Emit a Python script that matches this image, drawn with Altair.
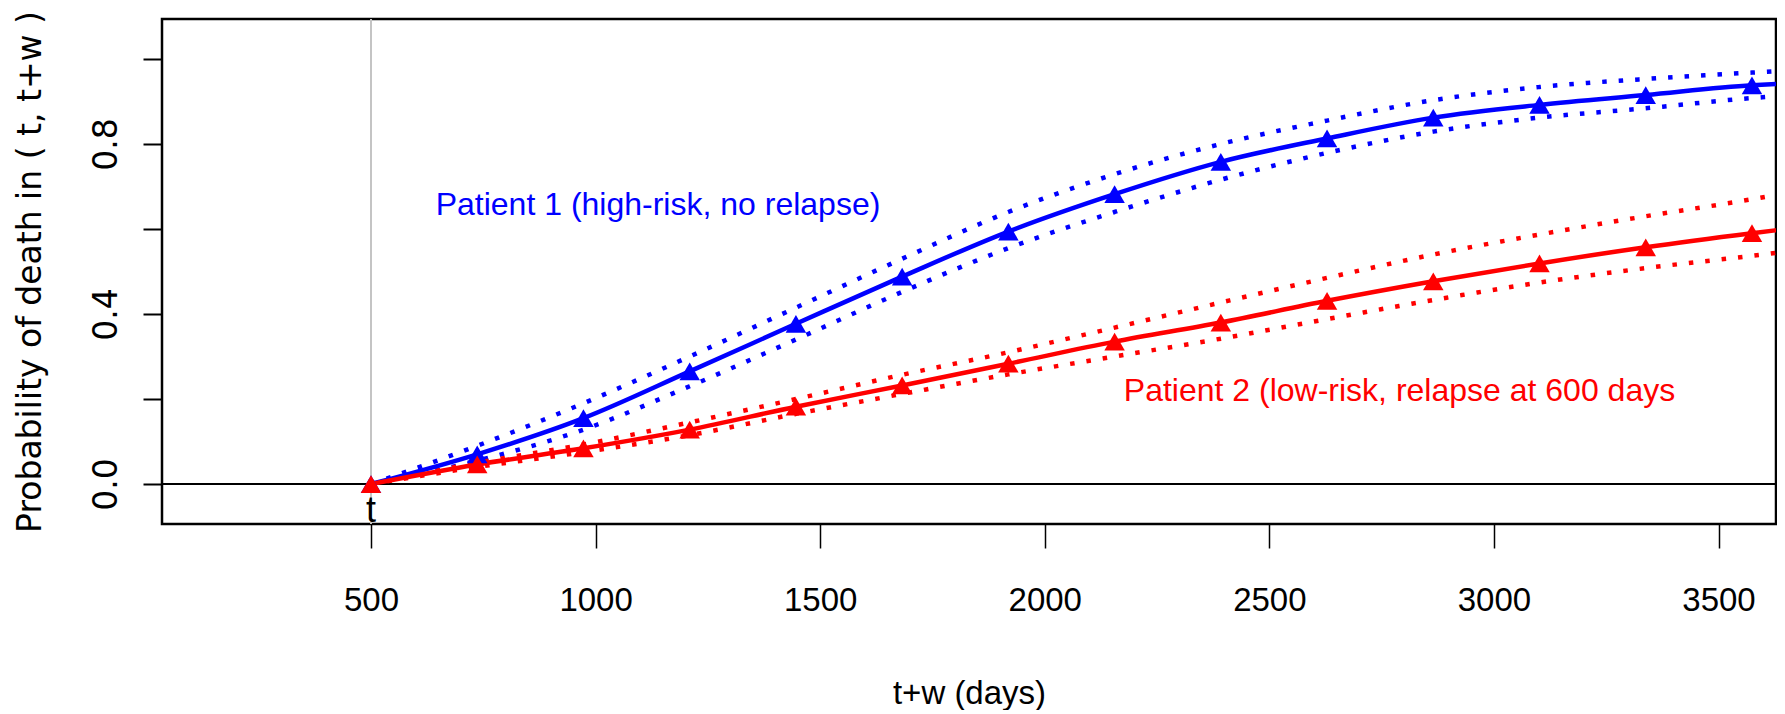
import altair as alt
import pandas as pd

# ---- data ----
w_days = [500, 736.5, 973, 1209.5, 1446, 1682.5, 1919, 2155.5, 2392, 2628.5, 2865, 3101.5, 3338, 3574.5, 3628]
n_markers = 14  # triangles drawn at the first 14 positions

p1_est = [0, 0.070, 0.155, 0.265, 0.377, 0.488, 0.594, 0.682, 0.758, 0.813, 0.862, 0.892, 0.915, 0.938, 0.941]
p1_up = [0, 0.090, 0.190, 0.300, 0.415, 0.530, 0.640, 0.729, 0.800, 0.855, 0.903, 0.934, 0.953, 0.968, 0.971]
p1_lo = [0, 0.055, 0.128, 0.230, 0.340, 0.452, 0.555, 0.640, 0.716, 0.779, 0.829, 0.862, 0.884, 0.908, 0.912]

p2_est = [0, 0.046, 0.084, 0.128, 0.182, 0.232, 0.283, 0.335, 0.380, 0.431, 0.477, 0.519, 0.557, 0.590, 0.597]
p2_up = [0, 0.050, 0.093, 0.145, 0.200, 0.257, 0.310, 0.368, 0.427, 0.485, 0.540, 0.587, 0.630, 0.670, 0.680]
p2_lo = [0, 0.040, 0.075, 0.115, 0.165, 0.212, 0.258, 0.300, 0.342, 0.388, 0.433, 0.474, 0.508, 0.537, 0.544]

patients = ["Patient 1", "Patient 2"]
colors = ["#0000FF", "#FF0000"]

ann_text = ["Patient 1 (high-risk, no relapse)", "Patient 2 (low-risk, relapse at 600 days"]
ann_x = [644, 2176]
ann_y = [0.657, 0.22]

t_label = ["t"]
t_x = [500]
t_y = [-0.089]

x_ticks = [500, 1000, 1500, 2000, 2500, 3000, 3500]
y_ticks = [0, 0.2, 0.4, 0.6, 0.8, 1.0]
x_domain = [34.7, 3628]
y_domain = [-0.094, 1.094]

NARROW = "Liberation Sans, Arial, sans-serif"
WIDE = "DejaVu Sans, Liberation Sans, sans-serif"

# ---- build tables ----
rows = []
for pat, est, up, lo in [("Patient 1", p1_est, p1_up, p1_lo), ("Patient 2", p2_est, p2_up, p2_lo)]:
    for i, xv in enumerate(w_days):
        rows.append({"w": xv, "p": est[i], "patient": pat, "band": "est", "series": pat + "est", "marker": i < n_markers})
        rows.append({"w": xv, "p": up[i], "patient": pat, "band": "up", "series": pat + "up", "marker": False})
        rows.append({"w": xv, "p": lo[i], "patient": pat, "band": "lo", "series": pat + "lo", "marker": False})
df = pd.DataFrame(rows)

xs = alt.Scale(domain=x_domain, nice=False, zero=False)
ys = alt.Scale(domain=y_domain, nice=False, zero=False)
cs = alt.Scale(domain=patients, range=colors)

X = alt.X("w:Q", scale=xs, axis=alt.Axis(
    values=x_ticks, format="d", title="t+w (days)", grid=False, domain=False,
    tickColor="black", tickWidth=1.5, tickSize=24,
    labelFont=NARROW, labelFontSize=33, labelColor="black", labelPadding=36,
    labelBaseline="top", labelFlush=False, labelOverlap=False,
    titleFont=NARROW, titleFontSize=33, titleFontWeight="normal", titleColor="black",
    titleBaseline="alphabetic", titleY=179))
Y = alt.Y("p:Q", scale=ys, axis=alt.Axis(
    values=y_ticks, title="Probability of death in ( t, t+w )", grid=False, domain=False,
    tickColor="black", tickWidth=2, tickSize=19,
    labelExpr="datum.value == 0 ? '0.0' : (datum.value == 0.4 ? '0.4' : (datum.value == 0.8 ? '0.8' : ''))",
    labelFont=WIDE, labelFontSize=33, labelColor="black", labelAngle=-90,
    labelAlign="center", labelBaseline="alphabetic", labelPadding=27, labelOverlap=False,
    titleFont=WIDE, titleFontSize=33, titleFontWeight="normal", titleColor="black",
    titleAngle=-90, titleAlign="center", titleBaseline="alphabetic", titleX=-122, titleY=252.5))

base = alt.Chart(df)

vline = alt.Chart(pd.DataFrame({"w": t_x})).mark_rule(color="#c4c4c4", strokeWidth=2).encode(
    x=alt.X("w:Q", scale=xs))
hline = alt.Chart(pd.DataFrame({"p": [0]})).mark_rule(color="black", strokeWidth=2).encode(
    y=alt.Y("p:Q", scale=ys))

dotted = base.transform_filter("datum.band != 'est'").mark_line(
    strokeWidth=4.5, strokeDash=[4.5, 12], strokeCap="butt", interpolate="monotone", clip=True
).encode(x=X, y=Y, color=alt.Color("patient:N", scale=cs, legend=None), detail="series:N")

solid = base.transform_filter("datum.band == 'est'").mark_line(
    strokeWidth=4.5, interpolate="monotone", clip=True
).encode(x=X, y=Y, color=alt.Color("patient:N", scale=cs, legend=None), detail="series:N")

tri = base.transform_filter("datum.marker").mark_point(
    shape="triangle-up", filled=True, size=420, opacity=1, clip=True
).encode(x=X, y=Y, color=alt.Color("patient:N", scale=cs, legend=None))

ann = alt.Chart(pd.DataFrame({"w": ann_x, "p": ann_y, "txt": ann_text, "patient": patients})).mark_text(
    align="left", baseline="middle", font=NARROW, fontSize=32
).encode(x=alt.X("w:Q", scale=xs), y=alt.Y("p:Q", scale=ys), text="txt:N",
         color=alt.Color("patient:N", scale=cs, legend=None))

tlab = alt.Chart(pd.DataFrame({"w": t_x, "p": t_y, "txt": t_label})).mark_text(
    align="center", baseline="alphabetic", font=NARROW, fontSize=36, color="black"
).encode(x=alt.X("w:Q", scale=xs), y=alt.Y("p:Q", scale=ys), text="txt:N")

chart = alt.layer(vline, hline, dotted, solid, tri, ann, tlab).properties(
    width=1614, height=505,
    autosize=alt.AutoSizeParams(type="none"),
    padding={"left": 154, "top": 11, "right": 1, "bottom": 186},
).configure_view(stroke="black", strokeWidth=2.5)

chart.save("out.html", embed_options={"renderer": "svg", "actions": False})
